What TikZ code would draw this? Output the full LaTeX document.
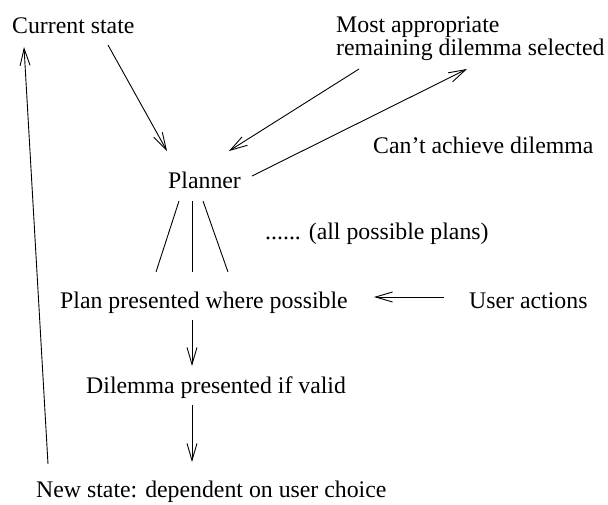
\documentclass[tikz,border=0pt]{standalone}
\usepackage{fontspec}
\setmainfont{Liberation Serif}
\usetikzlibrary{arrows.meta}
\tikzset{
  lbl/.style={anchor=base west, inner sep=0pt, font=\fontsize{23.8}{23}\selectfont},
  conn/.style={line width=0.9pt},
  arr/.style={conn, -{Straight Barb[length=17pt,width=10pt,line width=0.9pt]}}
}
\begin{document}
\begin{tikzpicture}[x=1pt,y=-1pt]
\useasboundingbox (0,0) rectangle (608,504);
\node[lbl] (cur) at (12,33) {Current state};
\node[lbl] (mosta) at (336,32) {Most appropriate};
\node[lbl] (mostb) at (336,55) {remaining dilemma selected};
\node[lbl] (can) at (373,153) {Can’t achieve dilemma};
\node[lbl] (planner) at (168,188) {Planner};
\node[lbl] (allp) at (265,239) {...... (all possible plans)};
\node[lbl] (plan) at (60,308) {Plan presented where possible};
\node[lbl] (user) at (469,308) {User actions};
\node[lbl] (dil) at (86,393) {Dilemma presented if valid};
\node[lbl] (new) at (36,497) {New state: dependent on user choice};
% connectors
\draw[arr] ([shift={(96,12)}]cur.base west) -- ([shift={(-1,-37)}]planner.base west);
\draw[arr] ([shift={(23,14)}]mostb.base west) -- ([shift={(61,-37)}]planner.base west);
\draw[arr] ([shift={(84,-12)}]planner.base west) -- ([shift={(131,14)}]mostb.base west);
\draw[arr] ([shift={(12,-33)}]new.base west) -- ([shift={(12,14)}]cur.base west);
\draw[conn] ([shift={(11,13)}]planner.base west) -- ([shift={(96,-36)}]plan.base west);
\draw[conn] ([shift={(24,13)}]planner.base west) -- ([shift={(132,-36)}]plan.base west);
\draw[conn] ([shift={(35,13)}]planner.base west) -- ([shift={(168,-36)}]plan.base west);
\draw[arr] ([shift={(132,12)}]plan.base west) -- ([shift={(106,-27)}]dil.base west);
\draw[arr] ([shift={(106,12)}]dil.base west) -- ([shift={(156,-35)}]new.base west);
\draw[arr] ([shift={(-25,-11)}]user.base west) -- ([shift={(314,-11)}]plan.base west);
\end{tikzpicture}
\end{document}
